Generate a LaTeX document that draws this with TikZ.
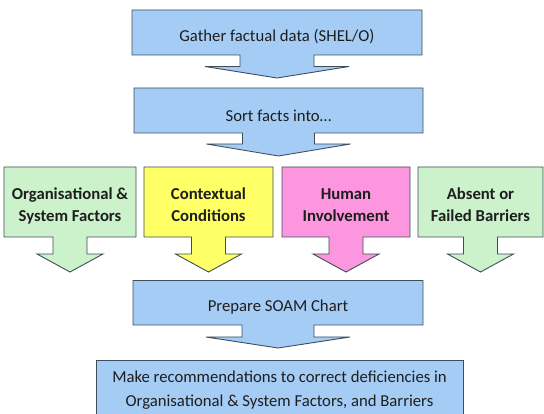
\documentclass[tikz,border=0pt]{standalone}
\usepackage{fontspec}
\setmainfont{Carlito}

\definecolor{edgegray}{RGB}{62,78,88}
\definecolor{textdark}{RGB}{30,30,30}
\definecolor{stepblue}{RGB}{164,204,244}
\definecolor{factorgreen}{RGB}{204,242,204}
\definecolor{factoryellow}{RGB}{255,255,102}
\definecolor{factorpink}{RGB}{252,150,222}

\tikzset{
  calloutframe/.style={draw=edgegray, line width=0.9pt, line join=miter},
  steptext/.style={font=\fontsize{16.7}{20}\selectfont, text=textdark, inner sep=0pt, anchor=base},
  factortext/.style={font=\bfseries\fontsize{16.7}{21.7}\selectfont, align=center, text=textdark, inner sep=0pt, anchor=center},
  finaltext/.style={font=\fontsize{16.7}{24}\selectfont, align=center, text=textdark, inner sep=0pt, anchor=center},
}

% Box with a downward block arrow under its middle:
% #1 fill, #2 left, #3 top, #4 right, #5 bottom,
% #6 shaft half width, #7 head half width, #8 shaft end y, #9 tip y
\newcommand\downcallout[9]{%
  \pgfmathsetmacro\calloutmid{(#2+#4)/2}%
  \filldraw[calloutframe, fill=#1]
    (#2,#3) -- (#4,#3) -- (#4,#5) -- ({\calloutmid+#6},#5) -- ({\calloutmid+#6},#8)
    -- ({\calloutmid+#7},#8) -- (\calloutmid,#9) -- ({\calloutmid-#7},#8) -- ({\calloutmid-#6},#8)
    -- ({\calloutmid-#6},#5) -- (#2,#5) -- cycle;}

\begin{document}
\begin{tikzpicture}[x=1pt, y=-1pt]
  \useasboundingbox (0,0) rectangle (544,414);
  \clip (0,0) rectangle (544,414);

  % main sequence
  \downcallout{stepblue}{132}{10}{422}{55}{37}{72}{66.5}{78}
  \node[steptext] (gather) at (277,41.7) {Gather factual data (SHEL/O)};

  \downcallout{stepblue}{134}{88}{423}{133}{36}{72}{144}{156}
  \node[steptext] (sort) at (278.5,121.7) {Sort facts into…};

  % the four categories
  \downcallout{factorgreen}{4}{167}{136}{237}{17}{33}{254}{272}
  \node[factortext] (org) at (70,206.5) {\strut Organisational \&\\\strut System Factors};

  \downcallout{factoryellow}{144}{167}{273}{237}{17}{33}{254}{272}
  \node[factortext] (ctx) at (208.5,206.5) {\strut Contextual\\\strut Conditions};

  \downcallout{factorpink}{282}{167}{410}{237}{17}{33}{254}{272}
  \node[factortext] (human) at (346,206.5) {\strut Human\\\strut Involvement};

  \downcallout{factorgreen}{418}{167}{543}{237}{17}{33}{254}{272}
  \node[factortext] (barrier) at (480.5,206.5) {\strut Absent or\\\strut Failed Barriers};

  % chart and recommendations
  \downcallout{stepblue}{133}{280.5}{423}{325}{36}{72}{337}{348}
  \node[steptext] (soam) at (278,312) {Prepare SOAM Chart};

  \filldraw[calloutframe, fill=stepblue] (96,360) rectangle (463,430);
  \node[finaltext] (recommend) at (279.5,389.9)
    {\strut Make recommendations to correct deficiencies in\\\strut Organisational \& System Factors, and Barriers};
\end{tikzpicture}
\end{document}
